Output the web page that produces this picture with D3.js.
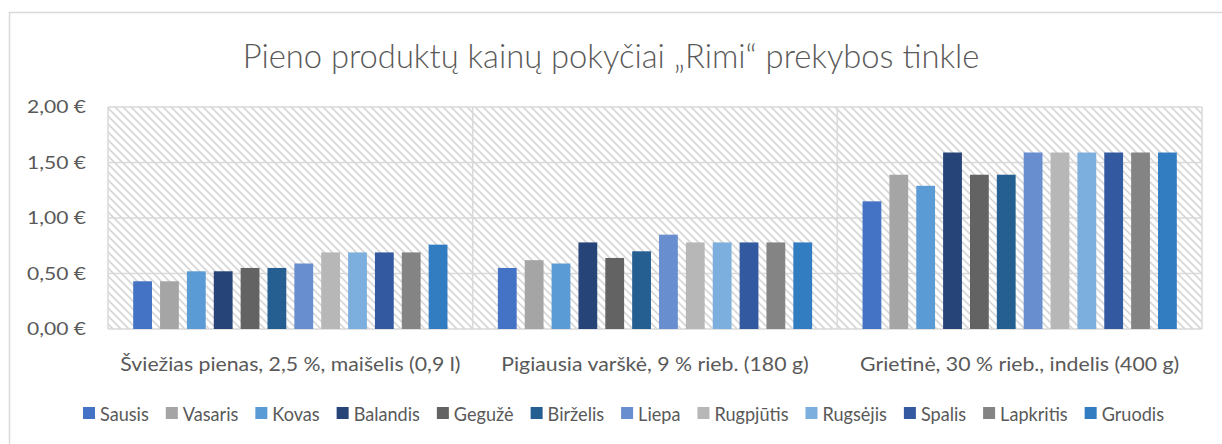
<!DOCTYPE html>
<html><head><meta charset="utf-8">
<script src="https://cdn.jsdelivr.net/npm/d3@7/dist/d3.min.js"></script>
<style>
html,body{margin:0;padding:0;background:#fff;}
svg{display:block;}
text{font-family:"Lato","Open Sans",sans-serif;fill:#595959;}
</style></head><body>
<svg id="c" width="1222" height="444"></svg>
<script>
const title = "Pieno produktų kainų pokyčiai „Rimi“ prekybos tinkle";
const categories = ["Šviežias pienas, 2,5 %, maišelis (0,9 l)", "Pigiausia varškė, 9 % rieb. (180 g)", "Grietinė, 30 % rieb., indelis (400 g)"];
const months = ["Sausis","Vasaris","Kovas","Balandis","Gegužė","Birželis","Liepa","Rugpjūtis","Rugsėjis","Spalis","Lapkritis","Gruodis"];
const colors = ["#4472C4","#A5A5A5","#5B9BD5","#264478","#636363","#255E91","#698ED0","#B7B7B7","#7CAFDD","#335AA1","#848484","#327DC2"];
const pienas = [0.43,0.43,0.52,0.52,0.55,0.55,0.59,0.69,0.69,0.69,0.69,0.76];
const varske = [0.55,0.62,0.59,0.78,0.64,0.70,0.85,0.78,0.78,0.78,0.78,0.78];
const grietine = [1.15,1.39,1.29,1.59,1.39,1.39,1.59,1.59,1.59,1.59,1.59,1.59];
const yTicks = [0,0.5,1,1.5,2];

(function(){
const series = [pienas, varske, grietine];
const svg = d3.select("#c");

svg.append("rect").attr("x",9.5).attr("y",12.5).attr("width",1230).attr("height",450)
  .attr("fill","#fff").attr("stroke","#d9d9d9").attr("stroke-width",1.5);

const defs = svg.append("defs");
const pat = defs.append("pattern").attr("id","hatch").attr("patternUnits","userSpaceOnUse")
  .attr("width",8).attr("height",8);
pat.append("rect").attr("width",8).attr("height",8).attr("fill","#fff");
pat.append("path").attr("d","M-2,-2 L10,10 M-2,6 L2,10 M6,-2 L10,2")
  .attr("stroke","#d6d6d6").attr("stroke-width",1.6);

const pL=108, pR=1202, pT=107, pB=329;
const x0 = d3.scaleBand().domain(categories).range([pL,pR]).padding(0);
const x1 = d3.scaleBand().domain(months).range([25.2, x0.bandwidth()-25.2]).paddingInner(0.3).paddingOuter(0);
const y = d3.scaleLinear().domain([0,2]).range([pB,pT]);

svg.append("rect").attr("x",pL).attr("y",pT).attr("width",pR-pL).attr("height",pB-pT)
  .attr("fill","url(#hatch)");

svg.append("g").selectAll("line").data(yTicks).join("line")
  .attr("x1",pL).attr("x2",pR).attr("y1",d=>y(d)).attr("y2",d=>y(d))
  .attr("stroke","#d9d9d9").attr("stroke-width",1.5);
const vb = categories.map(c=>x0(c)).concat([pR]);
svg.append("g").selectAll("line").data(vb).join("line")
  .attr("x1",d=>d).attr("x2",d=>d).attr("y1",pT).attr("y2",pB)
  .attr("stroke","#d9d9d9").attr("stroke-width",1.5);

const gC = svg.append("g").selectAll("g").data(categories).join("g")
  .attr("transform",c=>`translate(${x0(c)},0)`);
gC.selectAll("rect").data((c,i)=>series[i].map((v,j)=>({m:months[j],v,c:colors[j]}))).join("rect")
  .attr("x",d=>x1(d.m)).attr("width",x1.bandwidth())
  .attr("y",d=>y(d.v)).attr("height",d=>y(0)-y(d.v))
  .attr("fill",d=>d.c);

function condense(sel, refNode, target){
  const k = target / refNode.getComputedTextLength();
  sel.each(function(){
    const w = this.getComputedTextLength();
    d3.select(this).attr("textLength", w*k).attr("lengthAdjust","spacingAndGlyphs");
  });
}
function fitWidth(sel, target){
  const fs = parseFloat(sel.style("font-size"));
  const w = sel.node().getComputedTextLength();
  sel.style("font-size",(fs*target/w)+"px");
}

const fmt = v => d3.format(".2f")(v).replace(".",",")+" €";
const yAxis = d3.axisLeft(y).tickValues(yTicks).tickFormat(fmt).tickSize(0).tickPadding(22);
const ya = svg.append("g").attr("transform",`translate(${pL},0)`).call(yAxis);
ya.select(".domain").remove();
ya.selectAll("text").attr("font-family",null).style("font-size","17.5px").attr("fill","#595959").attr("dy","0.34em");
condense(ya.selectAll("text"), ya.selectAll("text").filter(d=>d===2).node(), 59);

const xa = svg.append("g").attr("transform",`translate(0,${pB})`)
  .call(d3.axisBottom(x0).tickSize(0).tickPadding(0));
xa.select(".domain").remove();
xa.selectAll("text").attr("font-family",null).attr("fill","#595959").style("font-size","19px").attr("y",42).attr("dy","0");
condense(xa.selectAll("text"), xa.selectAll("text").node(), 340);

const t = svg.append("text").attr("x",611).attr("y",68).attr("text-anchor","middle")
  .style("font-size","25px").style("font-weight","300").text(title);
fitWidth(t, 737);

const lg = svg.append("g");
const sq = 12, tx0 = 17, gap = 17;
const items = lg.selectAll("g").data(months).join("g");
items.append("rect").attr("width",sq).attr("height",sq).attr("y",-sq/2).attr("fill",(d,i)=>colors[i]);
const ltxt = items.append("text").attr("x",tx0).attr("dy","7.5").style("font-size","19px").text(d=>d);
let tw = [];
ltxt.each(function(){ tw.push(this.getComputedTextLength()); });
const fixed = months.length*tx0 + gap*(months.length-1);
const k = (1081 - fixed) / d3.sum(tw);
ltxt.attr("textLength",(d,i)=>tw[i]*k).attr("lengthAdjust","spacingAndGlyphs");
let cx = 83;
items.attr("transform",(d,i)=>{ const p = cx; cx += tx0 + tw[i]*k + gap; return `translate(${p},413)`; });
})();
</script>
</body></html>
